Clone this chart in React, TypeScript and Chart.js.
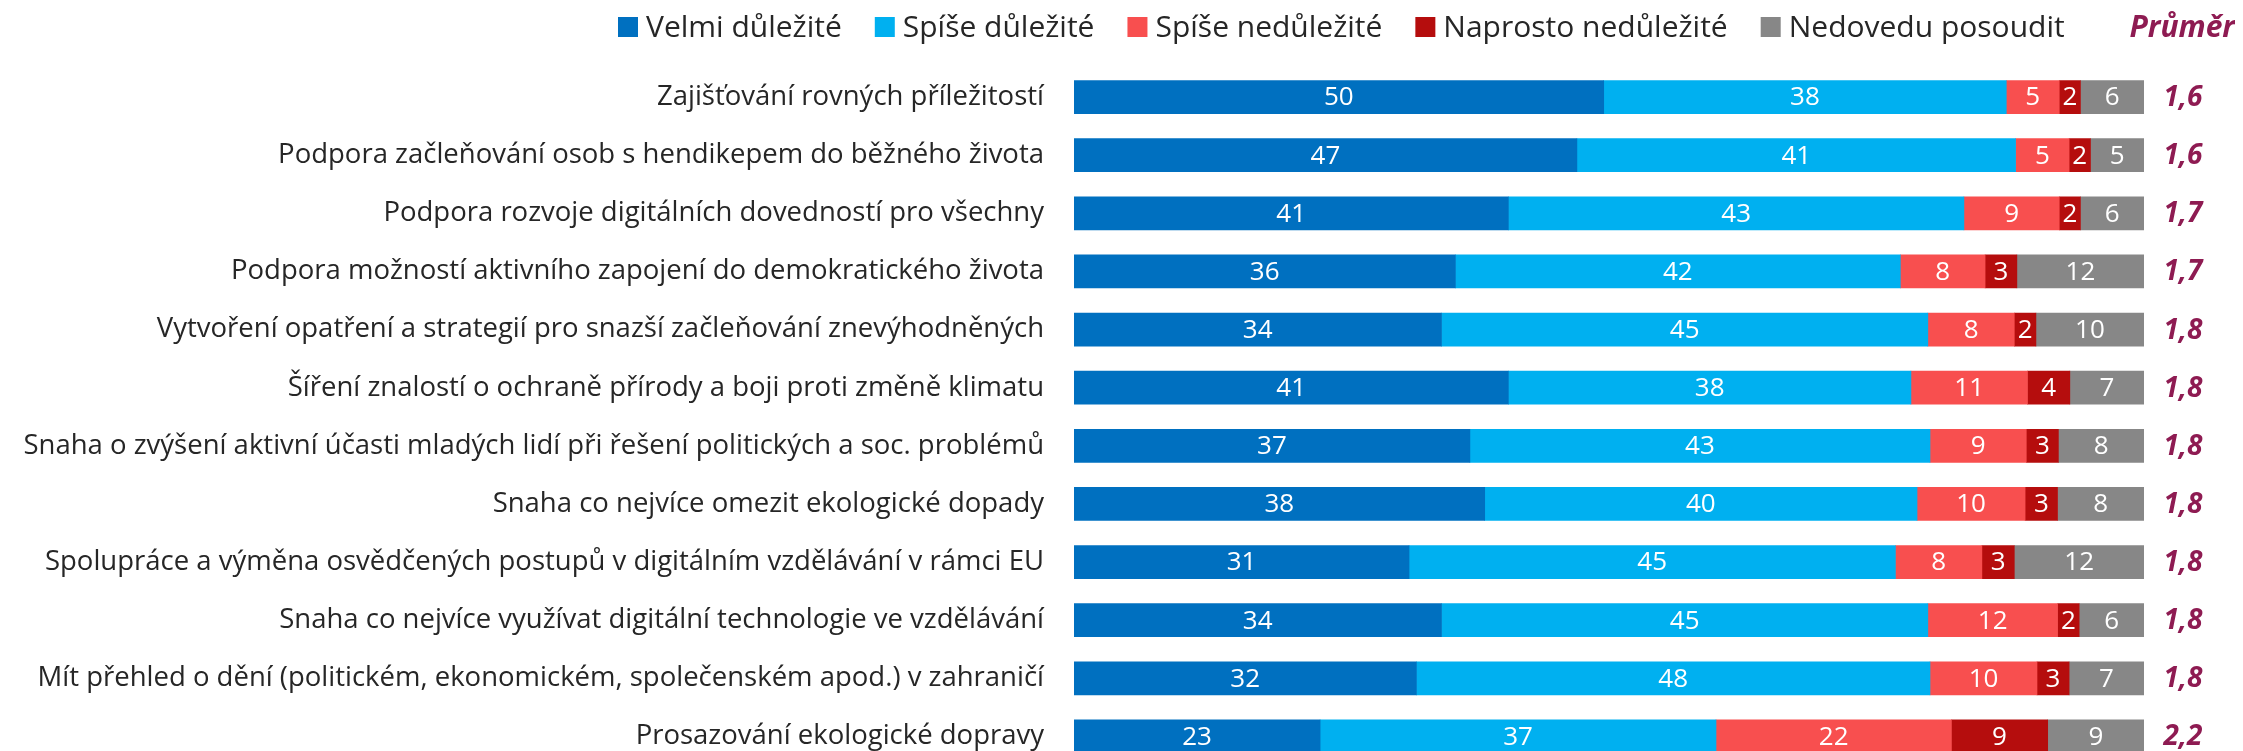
import React, { useEffect, useRef } from "react";
import { Chart, registerables } from "chart.js";

Chart.register(...registerables);

const categories = [
  "Zajišťování rovných příležitostí",
  "Podpora začleňování osob s hendikepem do běžného života",
  "Podpora rozvoje digitálních dovedností pro všechny",
  "Podpora možností aktivního zapojení do demokratického života",
  "Vytvoření opatření a strategií pro snazší začleňování znevýhodněných",
  "Šíření znalostí o ochraně přírody a boji proti změně klimatu",
  "Snaha o zvýšení aktivní účasti mladých lidí při řešení politických a soc. problémů",
  "Snaha co nejvíce omezit ekologické dopady",
  "Spolupráce a výměna osvědčených postupů v digitálním vzdělávání v rámci EU",
  "Snaha co nejvíce využívat digitální technologie ve vzdělávání",
  "Mít přehled o dění (politickém, ekonomickém, společenském apod.) v zahraničí",
  "Prosazování ekologické dopravy",
];

const velmi = [50, 47, 41, 36, 34, 41, 37, 38, 31, 34, 32, 23];
const spise = [38, 41, 43, 42, 45, 38, 43, 40, 45, 45, 48, 37];
const spiseNe = [5, 5, 9, 8, 8, 11, 9, 10, 8, 12, 10, 22];
const naprosto = [2, 2, 2, 3, 2, 4, 3, 3, 3, 2, 3, 9];
const nevim = [6, 5, 6, 12, 10, 7, 8, 8, 12, 6, 7, 9];
const averages = ["1,6", "1,6", "1,7", "1,7", "1,8", "1,8", "1,8", "1,8", "1,8", "1,8", "1,8", "2,2"];

const seriesNames = ["Velmi důležité", "Spíše důležité", "Spíše nedůležité", "Naprosto nedůležité", "Nedovedu posoudit"];
const seriesValues = [velmi, spise, spiseNe, naprosto, nevim];
const seriesColors = ["#0070C0", "#00B0F0", "#F84F4F", "#B50D0D", "#878787"];
const avgTitle = "Průměr";
const avgColor = "#8E1B52";

const FONT = "'Open Sans', 'Noto Sans', sans-serif";
const W = 2227;
const H = 796;

export default function App() {
  const ref = useRef<HTMLCanvasElement | null>(null);

  useEffect(() => {
    if (!ref.current) return;
    const rowSums = categories.map((_, i) => seriesValues.reduce((s, arr) => s + arr[i], 0));

    const datasets = seriesNames.map((name, k) => ({
      label: name,
      data: seriesValues[k].map((v, i) => (v / rowSums[i]) * 100),
      raw: seriesValues[k],
      backgroundColor: seriesColors[k],
      borderWidth: 0,
      barThickness: 33,
    }));

    const valuePlugin = {
      id: "valueLabels",
      afterDatasetsDraw(chart: any) {
        const ctx = chart.ctx;
        ctx.save();
        ctx.font = `26px ${FONT}`;
        ctx.fillStyle = "#ffffff";
        ctx.textAlign = "center";
        ctx.textBaseline = "middle";
        chart.data.datasets.forEach((ds: any, di: number) => {
          const meta = chart.getDatasetMeta(di);
          meta.data.forEach((bar: any, i: number) => {
            const x = (bar.x + bar.base) / 2;
            ctx.fillText(String(ds.raw[i]), x, bar.y + 1);
          });
        });
        const yScale = chart.scales.y;
        ctx.font = `italic bold 28px ${FONT}`;
        ctx.fillStyle = avgColor;
        averages.forEach((a, i) => {
          ctx.fillText(a, chart.chartArea.right + 39, yScale.getPixelForValue(i) + 1);
        });
        // legend
        ctx.textAlign = "left";
        ctx.font = `30px ${FONT}`;
        const ly = 19;
        let x = 610;
        seriesNames.forEach((name, k) => {
          ctx.fillStyle = seriesColors[k];
          ctx.fillRect(x, ly - 10, 20, 20);
          x += 28;
          ctx.fillStyle = "#262626";
          ctx.fillText(name, x, ly + 1);
          x += ctx.measureText(name).width + 33;
        });
        ctx.font = `italic bold 30px ${FONT}`;
        ctx.fillStyle = avgColor;
        ctx.textAlign = "right";
        ctx.fillText(avgTitle, 2227, ly + 1);
        ctx.restore();
      },
    };

    const chart = new Chart(ref.current, {
      type: "bar",
      data: { labels: categories, datasets: datasets as any },
      options: {
        indexAxis: "y",
        animation: false,
        responsive: false,
        maintainAspectRatio: false,
        layout: { padding: { top: 60, right: 91, bottom: 0, left: 0 } },
        plugins: { legend: { display: false }, tooltip: { enabled: false } },
        scales: {
          x: { stacked: true, min: 0, max: 100, display: false },
          y: {
            stacked: true,
            grid: { display: false },
            border: { display: false },
            ticks: {
              color: "#262626",
              font: { family: FONT, size: 27.5 },
              padding: 22,
              autoSkip: false,
            },
            afterFit(scale: any) {
              scale.width = 1066;
            },
          },
        },
      },
      plugins: [valuePlugin],
    });
    return () => chart.destroy();
  }, []);

  return (
    <div style={{ width: W, height: H }}>
      <canvas ref={ref} width={W} height={H} style={{ width: W, height: H, display: "block" }} />
    </div>
  );
}
